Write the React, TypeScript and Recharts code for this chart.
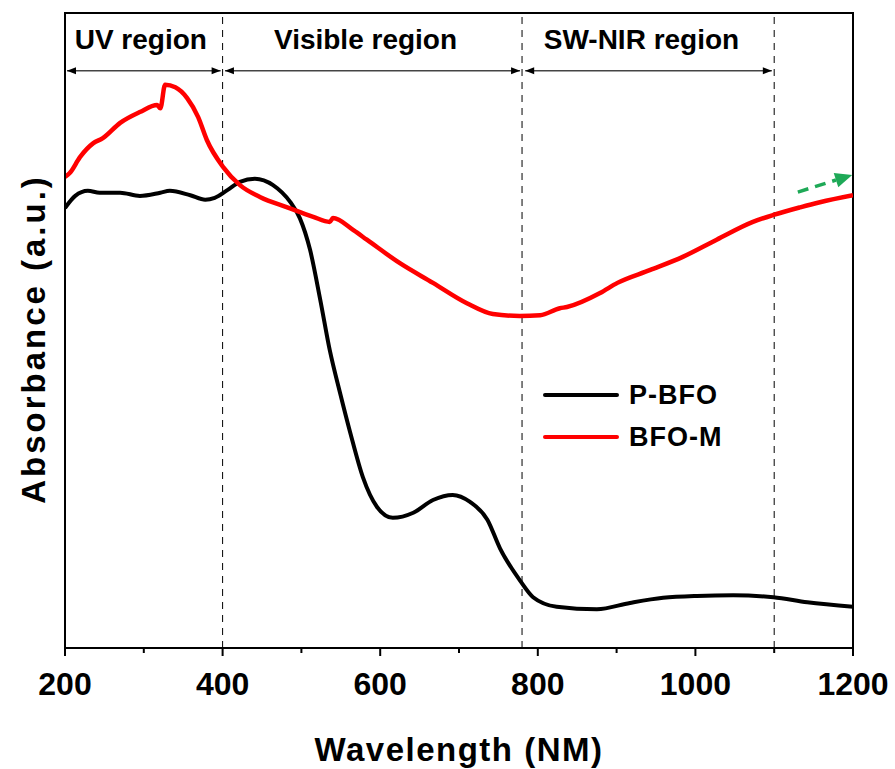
import React from "react";
import {
  LineChart,
  Line,
  XAxis,
  YAxis,
  ReferenceLine,
  ReferenceArea,
  Legend,
  Label,
} from "recharts";

const FONT = "'Liberation Sans', Arial, sans-serif";

// P-BFO (black) wavelength / absorbance readings
const pbfoWavelength = [
  200, 213, 229, 244, 270, 295, 321, 333, 359, 378, 390, 406, 422, 441, 464, 486, 498, 511, 524, 536, 549,
  562, 578, 596, 616, 642, 667, 692, 714, 736, 752, 777, 794, 824, 875, 917, 959, 1002, 1048, 1099, 1142, 1200,
];
const pbfoAbsorbance = [
  0.693, 0.712, 0.72, 0.717, 0.717, 0.712, 0.717, 0.72, 0.713, 0.706, 0.709, 0.721, 0.734, 0.739, 0.729,
  0.702, 0.677, 0.627, 0.548, 0.469, 0.402, 0.339, 0.269, 0.222, 0.205, 0.213, 0.233, 0.241, 0.23, 0.202,
  0.157, 0.107, 0.08, 0.065, 0.061, 0.071, 0.079, 0.082, 0.083, 0.08, 0.072, 0.065,
];

// BFO-M (red)
const bfomWavelength = [
  200, 206, 219, 236, 248, 270, 295, 317, 321, 327, 340, 355, 369, 380, 401, 422, 448, 482, 515, 536, 540,
  566, 583, 625, 667, 710, 743, 777, 803, 828, 837, 879, 901, 942, 984, 1027, 1073, 1099, 1133, 1158, 1200,
];
const bfomAbsorbance = [
  0.742, 0.748, 0.773, 0.795, 0.803, 0.827, 0.844, 0.855, 0.85, 0.887, 0.883, 0.866, 0.836, 0.8, 0.757,
  0.729, 0.71, 0.694, 0.679, 0.671, 0.677, 0.658, 0.643, 0.606, 0.575, 0.543, 0.526, 0.523, 0.524, 0.535,
  0.537, 0.559, 0.575, 0.595, 0.616, 0.643, 0.671, 0.682, 0.694, 0.702, 0.713,
];

const seriesNames = ["P-BFO", "BFO-M"];
const seriesColors = ["#000000", "#ff0000"];

const xTicks = [200, 300, 400, 500, 600, 700, 800, 900, 1000, 1100, 1200];
const boundaries = [400, 780, 1100];

// region annotations: label, start, end
const regionNames = ["UV region", "Visible region", "SW-NIR region"];
const regionStart = [202.5, 403, 784];
const regionEnd = [397.5, 777.5, 1097];
const regionLevel = 0.909;

const trendStart = { x: 1130, y: 0.718 };
const trendEnd = { x: 1199, y: 0.745 };

const pbfo = pbfoWavelength.map((wl, i) => ({ wl, a: pbfoAbsorbance[i] }));
const bfom = bfomWavelength.map((wl, i) => ({ wl, a: bfomAbsorbance[i] }));

function XTick(props: any) {
  const { x, y, payload } = props;
  const major = payload.value % 200 === 0;
  return (
    <g>
      <line x1={x} x2={x} y1={y} y2={y + (major ? 8 : 5)} stroke="#000" strokeWidth={2} />
      {major && (
        <text x={x} y={y + 47} textAnchor="middle" fontFamily={FONT} fontWeight="bold" fontSize={32} fill="#000">
          {payload.value}
        </text>
      )}
    </g>
  );
}

function RegionArrow(props: any) {
  const { x1, y1, x2, text, dx } = props;
  const h = 9;
  const w = 3.5;
  return (
    <g>
      <line x1={x1} y1={y1} x2={x2} y2={y1} stroke="#444" strokeWidth={1.5} />
      <polygon points={`${x1},${y1} ${x1 + h},${y1 - w} ${x1 + h},${y1 + w}`} fill="#000" />
      <polygon points={`${x2},${y1} ${x2 - h},${y1 - w} ${x2 - h},${y1 + w}`} fill="#000" />
      <text
        x={(x1 + x2) / 2 + dx}
        y={y1 - 22}
        textAnchor="middle"
        fontFamily={FONT}
        fontWeight="bold"
        fontSize={28}
        fill="#000"
      >
        {text}
      </text>
    </g>
  );
}

function TrendArrow(props: any) {
  const { x1, y1, x2, y2 } = props;
  const len = Math.hypot(x2 - x1, y2 - y1);
  const ux = (x2 - x1) / len;
  const uy = (y2 - y1) / len;
  const head = 17;
  const half = 7.5;
  const bx = x2 - ux * head;
  const by = y2 - uy * head;
  return (
    <g>
      <line x1={x1} y1={y1} x2={bx} y2={by} stroke="#1ea957" strokeWidth={3.5} strokeDasharray="11 7" />
      <polygon
        points={`${x2},${y2} ${bx - uy * half},${by + ux * half} ${bx + uy * half},${by - ux * half}`}
        fill="#1ea957"
      />
    </g>
  );
}

function LegendBox() {
  return (
    <div style={{ fontFamily: FONT }}>
      {seriesNames.map((name, i) => (
        <div key={name} style={{ display: "flex", alignItems: "center", height: 42 }}>
          <span style={{ width: 76, height: 4, background: seriesColors[i], marginRight: 10, borderRadius: 2 }} />
          <span style={{ fontSize: 27, fontWeight: "bold", color: "#000", letterSpacing: 1 }}>{name}</span>
        </div>
      ))}
    </div>
  );
}

export default function App() {
  return (
    <div style={{ position: "absolute", left: 0, top: 0, background: "#fff" }}>
      <LineChart width={895} height={769} margin={{ top: 13, right: 42, bottom: 0, left: 0 }}>
        <XAxis
          dataKey="wl"
          type="number"
          domain={[200, 1200]}
          ticks={xTicks}
          interval={0}
          tickSize={0}
          tickMargin={0}
          tick={<XTick />}
          height={121}
          axisLine={{ stroke: "#000", strokeWidth: 2 }}
          tickLine={false}
          allowDataOverflow
        >
          <Label
            value="Wavelength (NM)"
            position="insideBottom"
            offset={8}
            style={{ fontFamily: FONT, fontWeight: "bold", fontSize: 33, fill: "#000", letterSpacing: 1.5 }}
          />
        </XAxis>
        <YAxis
          type="number"
          domain={[0, 1]}
          width={65}
          tick={false}
          tickLine={false}
          axisLine={{ stroke: "#000", strokeWidth: 2 }}
        >
          <Label
            content={() => (
              <text
                x={33}
                y={339}
                transform="rotate(-90, 33, 339)"
                textAnchor="middle"
                dominantBaseline="central"
                fontFamily={FONT}
                fontWeight="bold"
                fontSize={33}
                letterSpacing={3}
                fill="#000"
              >
                Absorbance (a.u.)
              </text>
            )}
          />
        </YAxis>

        {boundaries.map((b) => (
          <ReferenceLine key={b} x={b} stroke="#000" strokeWidth={1} strokeDasharray="7 6" />
        ))}

        {regionNames.map((name, i) => (
          <ReferenceLine
            key={name}
            segment={[
              { x: regionStart[i], y: regionLevel },
              { x: regionEnd[i], y: regionLevel },
            ]}
            ifOverflow="visible"
            shape={(p: any) => <RegionArrow {...p} text={name} dx={i === 0 ? -3 : -7} />}
          />
        ))}

        <Line
          data={pbfo}
          dataKey="a"
          name={seriesNames[0]}
          type="monotone"
          stroke={seriesColors[0]}
          strokeWidth={4}
          dot={false}
          isAnimationActive={false}
        />
        <Line
          data={bfom}
          dataKey="a"
          name={seriesNames[1]}
          type="monotone"
          stroke={seriesColors[1]}
          strokeWidth={4.5}
          dot={false}
          isAnimationActive={false}
        />

        <ReferenceLine
          segment={[trendStart, trendEnd]}
          ifOverflow="visible"
          shape={(p: any) => <TrendArrow {...p} />}
        />

        <ReferenceArea
          x1={200}
          x2={1200}
          y1={0}
          y2={1}
          fill="none"
          fillOpacity={0}
          stroke="#000"
          strokeWidth={2}
          ifOverflow="visible"
        />

        <Legend
          layout="horizontal"
          verticalAlign="middle"
          align="center"
          content={<LegendBox />}
          wrapperStyle={{ position: "absolute", left: 543, top: 374, width: 220 }}
        />
      </LineChart>
    </div>
  );
}
